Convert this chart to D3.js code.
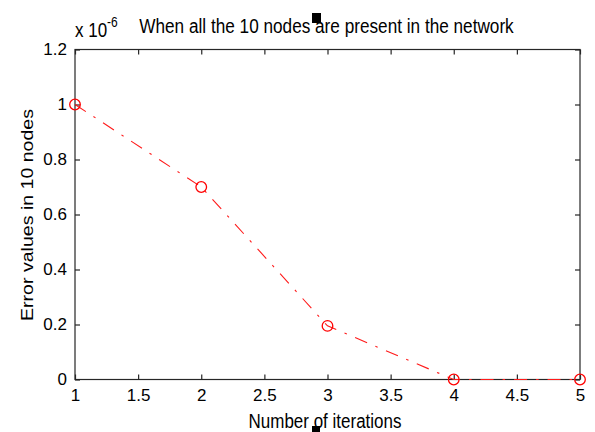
<!DOCTYPE html>
<html>
<head>
<meta charset="utf-8">
<script src="https://cdn.jsdelivr.net/npm/d3@7"></script>
<style>
  body { margin: 0; background: #fff; }
  text { font-family: "Liberation Sans", Arial, sans-serif; fill: #000; }
</style>
</head>
<body>
<svg id="chart"></svg>
<script>
// data (values in units of 1e-6)
const iterations = [1, 2, 3, 4, 5];
const errorValues = [1.0, 0.7, 0.195, 0, 0];
const xTicks = [1, 1.5, 2, 2.5, 3, 3.5, 4, 4.5, 5];
const yTicks = [0, 0.2, 0.4, 0.6, 0.8, 1, 1.2];

const width = 595, height = 432;
const margin = { top: 49.5, right: 15, bottom: 52.5, left: 75 };
const w = width - margin.left - margin.right;
const h = height - margin.top - margin.bottom;

const svg = d3.select('#chart')
    .attr('width', width)
    .attr('height', height);

const chart = svg.append('g')
    .attr('transform', `translate(${margin.left},${margin.top})`);

const x = d3.scaleLinear().domain([1, 5]).range([0, w]);
const y = d3.scaleLinear().domain([0, 1.2]).range([h, 0]);

// box
chart.append('rect')
    .attr('width', w).attr('height', h)
    .attr('fill', 'none').attr('stroke', '#262626').attr('stroke-width', 1.2);

// inward ticks, matlab style
const fmt = d => String(d);
const tickLen = 5;

const xAxis = chart.append('g')
    .attr('transform', `translate(0,${h})`)
    .call(d3.axisBottom(x).tickValues(xTicks).tickFormat(fmt).tickSize(-tickLen).tickPadding(9).tickSizeOuter(0));
const xTop = chart.append('g')
    .call(d3.axisTop(x).tickValues(xTicks).tickFormat('').tickSize(-tickLen).tickSizeOuter(0));
const yAxis = chart.append('g')
    .call(d3.axisLeft(y).tickValues(yTicks).tickFormat(fmt).tickSize(-tickLen).tickPadding(8).tickSizeOuter(0));
const yRight = chart.append('g')
    .attr('transform', `translate(${w},0)`)
    .call(d3.axisRight(y).tickValues(yTicks).tickFormat('').tickSize(-tickLen).tickSizeOuter(0));

[xAxis, xTop, yAxis, yRight].forEach(g => {
    g.select('.domain').remove();
    g.selectAll('line').attr('stroke', '#262626').attr('stroke-width', 1.2);
    g.selectAll('text')
        .style('font-family', '"Liberation Sans", Arial, sans-serif')
        .attr('font-size', 17).attr('fill', '#000');
});
xAxis.selectAll('text').attr('dy', '0.75em');

// the line
const pts = iterations.map((d, i) => [d, errorValues[i]]);
const line = d3.line()
    .x(d => x(d[0]))
    .y(d => y(d[1]));

chart.append('path')
    .datum(pts)
    .attr('d', line)
    .attr('fill', 'none')
    .attr('stroke', '#ff1a1a')
    .attr('stroke-width', 1.1)
    .attr('stroke-dasharray', '13,9,2.5,9');

chart.selectAll('circle')
    .data(pts)
    .enter()
    .append('circle')
        .attr('cx', d => x(d[0]))
        .attr('cy', d => y(d[1]))
        .attr('r', 5.3)
        .attr('fill', 'none')
        .attr('stroke', '#ff0000')
        .attr('stroke-width', 1.3);

// exponent label
const expo = svg.append('text')
    .attr('transform', 'translate(75,37) scale(1,1.15)')
    .attr('font-size', 17);
expo.append('tspan').text('x 10');
expo.append('tspan').attr('dy', -9).attr('font-size', 12).text('-6');

// title
svg.append('text')
    .attr('transform', 'translate(326.5,33) scale(1,1.15)')
    .attr('text-anchor', 'middle')
    .attr('font-size', 17.2)
    .text('When all the 10 nodes are present in the network');

// axis labels
svg.append('text')
    .attr('transform', 'translate(325,428) scale(1,1.15)')
    .attr('text-anchor', 'middle')
    .attr('font-size', 17)
    .text('Number of iterations');

svg.append('text')
    .attr('transform', 'translate(33,215) rotate(-90)')
    .attr('text-anchor', 'middle')
    .attr('font-size', 17)
    .attr('textLength', 212)
    .attr('lengthAdjust', 'spacingAndGlyphs')
    .text('Error values in 10 nodes');

// little black squares from the original image
svg.append('rect').attr('x', 312).attr('y', 13).attr('width', 9).attr('height', 10).attr('fill', '#000');
svg.append('rect').attr('x', 312).attr('y', 426).attr('width', 8).attr('height', 6).attr('fill', '#000');
</script>
</body>
</html>
